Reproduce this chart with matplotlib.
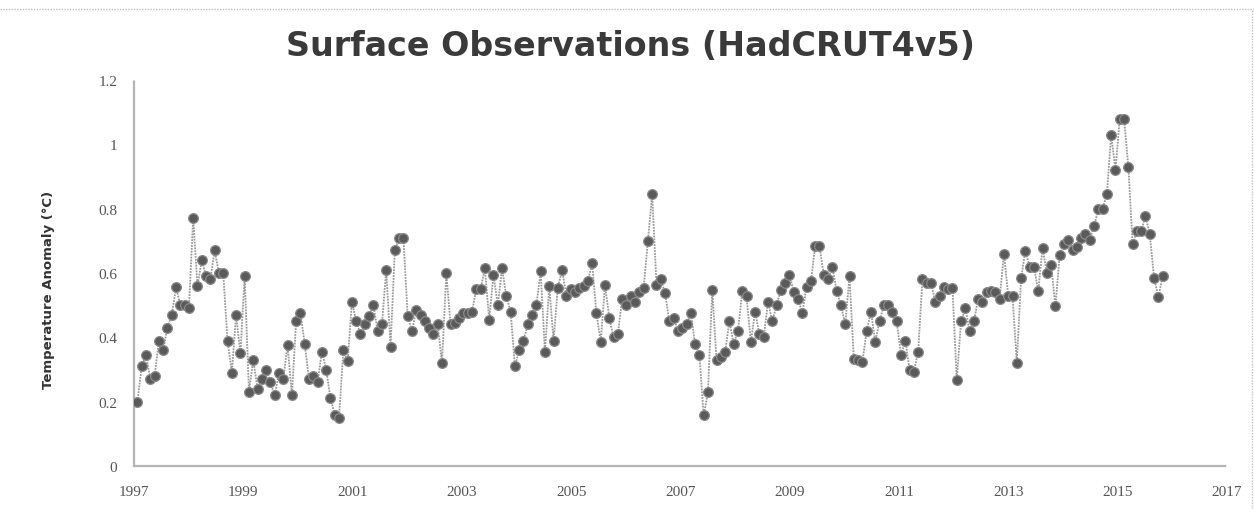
import numpy as np
import matplotlib
matplotlib.use("Agg")
import matplotlib.pyplot as plt
from matplotlib.lines import Line2D

# monthly anomalies (deg C), Jan 1997 .. Dec 2016
years = list(range(1997, 2017))
y1997 = [0.20, 0.31, 0.345, 0.27, 0.28, 0.39, 0.36, 0.43, 0.47, 0.555, 0.50, 0.50]
y1998 = [0.49, 0.77, 0.56, 0.64, 0.59, 0.58, 0.67, 0.60, 0.60, 0.39, 0.29, 0.47]
y1999 = [0.35, 0.59, 0.23, 0.33, 0.24, 0.27, 0.30, 0.26, 0.22, 0.29, 0.27, 0.375]
y2000 = [0.22, 0.45, 0.475, 0.38, 0.27, 0.28, 0.26, 0.355, 0.30, 0.21, 0.16, 0.15]
y2001 = [0.36, 0.325, 0.51, 0.45, 0.41, 0.44, 0.465, 0.50, 0.42, 0.44, 0.61, 0.37]
y2002 = [0.67, 0.71, 0.71, 0.465, 0.42, 0.485, 0.47, 0.45, 0.43, 0.41, 0.44, 0.32]
y2003 = [0.60, 0.44, 0.445, 0.46, 0.475, 0.475, 0.48, 0.55, 0.55, 0.615, 0.455, 0.595]
y2004 = [0.50, 0.615, 0.527, 0.48, 0.31, 0.36, 0.39, 0.44, 0.47, 0.50, 0.605, 0.355]
y2005 = [0.56, 0.39, 0.553, 0.61, 0.527, 0.55, 0.54, 0.553, 0.56, 0.574, 0.63, 0.475]
y2006 = [0.386, 0.564, 0.46, 0.40, 0.41, 0.52, 0.50, 0.53, 0.51, 0.54, 0.553, 0.70]
y2007 = [0.845, 0.564, 0.58, 0.537, 0.45, 0.46, 0.42, 0.43, 0.44, 0.475, 0.38, 0.345]
y2008 = [0.157, 0.23, 0.548, 0.33, 0.34, 0.355, 0.45, 0.38, 0.42, 0.543, 0.527, 0.386]
y2009 = [0.48, 0.41, 0.40, 0.51, 0.45, 0.50, 0.548, 0.57, 0.595, 0.54, 0.52, 0.475]
y2010 = [0.558, 0.574, 0.683, 0.683, 0.595, 0.58, 0.62, 0.543, 0.50, 0.44, 0.59, 0.334]
y2011 = [0.33, 0.324, 0.42, 0.48, 0.386, 0.45, 0.50, 0.50, 0.48, 0.45, 0.345, 0.39]
y2012 = [0.30, 0.293, 0.355, 0.58, 0.57, 0.57, 0.51, 0.53, 0.558, 0.55, 0.553, 0.267]
y2013 = [0.45, 0.49, 0.42, 0.45, 0.52, 0.51, 0.54, 0.543, 0.54, 0.52, 0.66, 0.53]
y2014 = [0.53, 0.32, 0.585, 0.668, 0.62, 0.62, 0.543, 0.678, 0.60, 0.626, 0.496, 0.657]
y2015 = [0.69, 0.704, 0.673, 0.68, 0.709, 0.72, 0.704, 0.746, 0.798, 0.80, 0.845, 1.03]
y2016 = [0.92, 1.08, 1.08, 0.93, 0.69, 0.73, 0.73, 0.777, 0.72, 0.585, 0.525, 0.59]

monthly = [y1997, y1998, y1999, y2000, y2001, y2002, y2003, y2004, y2005, y2006,
           y2007, y2008, y2009, y2010, y2011, y2012, y2013, y2014, y2015, y2016]

x_labels = [str(y) for y in range(1997, 2019, 2)]
y_ticks = [0, 0.2, 0.4, 0.6, 0.8, 1.0, 1.2]
y_ticklabels = ["0", "0.2", "0.4", "0.6", "0.8", "1", "1.2"]

vals = np.concatenate([np.array(r) for r in monthly])
idx = np.arange(len(vals))  # month number

W, H = 1254, 510
fig = plt.figure(figsize=(W / 100, H / 100), dpi=100)
ax = fig.add_axes([134 / W, (H - 467) / H, (1227 - 134) / W, (467 - 81) / H])

ax.plot(idx, vals, color="#9a9a9a", lw=1.3, ls=(0, (1, 0.6)), zorder=2)
ax.plot(idx, vals, ls="none", marker="o", ms=7, mfc="#5a5a5a", mec="#8a8a8a",
        mew=0.9, zorder=3)

# the category axis of the original runs a bit past the last month
x0, x1 = -0.8, 254
ax.set_xlim(x0, x1)
ax.set_ylim(0, 1.2)
ax.set_xticks(np.linspace(x0, x1, len(x_labels)))
ax.set_xticklabels(x_labels, fontsize=11, color="#555555", family="Liberation Serif")
ax.set_yticks(y_ticks)
ax.set_yticklabels(y_ticklabels, fontsize=11, color="#555555",
                   family="Liberation Serif")
ax.tick_params(axis="x", length=0, pad=14)
ax.tick_params(axis="y", length=0, pad=12)

for s in ["top", "right"]:
    ax.spines[s].set_visible(False)
for s in ["left", "bottom"]:
    ax.spines[s].set_color("#b5b5b5")
    ax.spines[s].set_linestyle((0, (1, 1)))
    ax.spines[s].set_linewidth(1.6)

ax.set_ylabel("Temperature Anomaly (°C)", fontsize=9.5, fontweight="bold",
              color="#333333")
ax.yaxis.set_label_coords(-0.072, 0.46)

fig.text(0.503, 0.908, "Surface Observations (HadCRUT4v5)", ha="center",
         va="center", fontsize=24, fontweight="bold", color="#3a3a3a",
         family="DejaVu Sans")

# dotted chart-area frame
fig.add_artist(Line2D([0, 1], [1 - 10 / H, 1 - 10 / H], transform=fig.transFigure,
                      color="#c0c0c0", lw=1, ls=(0, (1, 1))))
fig.add_artist(Line2D([1 - 2 / W, 1 - 2 / W], [0, 1 - 10 / H], transform=fig.transFigure,
                      color="#c0c0c0", lw=1, ls=(0, (1, 1))))

fig.savefig("out.png", dpi=100)
